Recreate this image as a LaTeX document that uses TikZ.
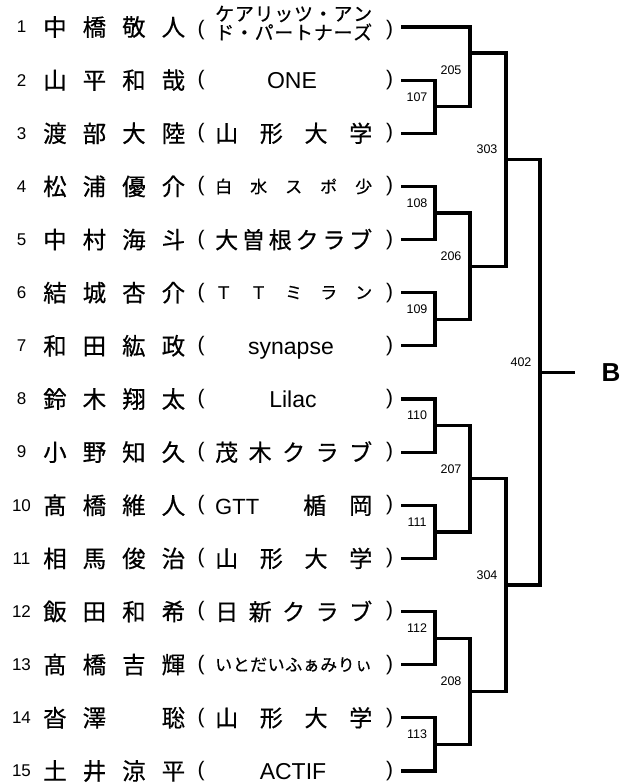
\documentclass[tikz,border=0pt]{standalone}
\usepackage{fontspec}
\setmainfont{Liberation Sans}
\newfontfamily\jp[FakeBold=0.5]{Noto Sans CJK JP}
\newcommand\nmbox[4]{\hbox to 142pt{#1\hfil #2\hfil #3\hfil #4}}
\newcommand\clbox[1]{\hbox to 157pt{#1}}
\begin{document}
\begin{tikzpicture}[x=1pt,y=-1pt,
  wire/.style={line width=3.2pt,line join=miter},
  numtxt/.style={inner sep=0pt,font=\fontsize{17}{17}\selectfont},
  nmtxt/.style={inner sep=0pt,anchor=west,font=\jp\fontsize{23.5}{23.5}\selectfont},
  clbig/.style={inner sep=0pt,anchor=west,font=\jp\fontsize{23}{23}\selectfont},
  clsmall/.style={inner sep=0pt,anchor=west,font=\jp\fontsize{17}{17}\selectfont},
  clmid/.style={inner sep=0pt,anchor=west,font=\jp\fontsize{19}{19}\selectfont},
  cllat/.style={inner sep=0pt,anchor=base,font=\fontsize{23}{23}\selectfont},
  par/.style={inner sep=0pt,font=\fontsize{21}{21}\selectfont},
  mlab/.style={inner sep=0pt,font=\fontsize{12.5}{12.5}\selectfont},
  blab/.style={inner sep=0pt,font=\bfseries\fontsize{26}{26}\selectfont}]
\useasboundingbox (0,0) rectangle (633,784);
% row positions
\foreach \i/\y/\py in {1/27/30,2/80.1/80.1,3/133.3/133.3,4/186.4/186.4,5/239.6/239.6,6/292.7/292.7,7/345.8/345.8,8/399.0/399.0,9/452.1/452.1,10/505.3/505.3,11/558.4/558.4,12/611.5/611.5,13/664.7/664.7,14/717.8/717.8,15/771.0/771.0}{
  \coordinate (p\i) at (401,\y);
  \node[numtxt] (num\i) at (21.5,\y) {\i};
  \node[par] (lp\i) at (201,\py) {(};
  \node[par] (rp\i) at (389.5,\py) {)};
}
% names
\node[nmtxt] (nm1) at (43,27) {\nmbox{中}{橋}{敬}{人}};
\node[nmtxt] (nm2) at (43,80.1) {\nmbox{山}{平}{和}{哉}};
\node[nmtxt] (nm3) at (43,133.3) {\nmbox{渡}{部}{大}{陸}};
\node[nmtxt] (nm4) at (43,186.4) {\nmbox{松}{浦}{優}{介}};
\node[nmtxt] (nm5) at (43,239.6) {\nmbox{中}{村}{海}{斗}};
\node[nmtxt] (nm6) at (43,292.7) {\nmbox{結}{城}{杏}{介}};
\node[nmtxt] (nm7) at (43,345.8) {\nmbox{和}{田}{紘}{政}};
\node[nmtxt] (nm8) at (43,399.0) {\nmbox{鈴}{木}{翔}{太}};
\node[nmtxt] (nm9) at (43,452.1) {\nmbox{小}{野}{知}{久}};
\node[nmtxt] (nm10) at (43,505.3) {\nmbox{髙}{橋}{維}{人}};
\node[nmtxt] (nm11) at (43,558.4) {\nmbox{相}{馬}{俊}{治}};
\node[nmtxt] (nm12) at (43,611.5) {\nmbox{飯}{田}{和}{希}};
\node[nmtxt] (nm13) at (43,664.7) {\nmbox{髙}{橋}{吉}{輝}};
\node[nmtxt] (nm14) at (43,717.8) {\nmbox{沓}{澤}{\hbox to 1em{}}{聡}};
\node[nmtxt] (nm15) at (43,771.0) {\nmbox{土}{井}{涼}{平}};
% clubs
\node[clmid] (cl1a) at (215,14) {\clbox{ケ\hfil ア\hfil リ\hfil ッ\hfil ツ\hfil ・\hfil ア\hfil ン}};
\node[clmid] (cl1b) at (215,32) {\clbox{ド\hfil ・\hfil パ\hfil ー\hfil ト\hfil ナ\hfil ー\hfil ズ}};
\node[cllat] (cl2) at (292,88.3) {ONE};
\node[clbig] (cl3) at (215,133.3) {\clbox{山\hfil 形\hfil 大\hfil 学}};
\node[clsmall] (cl4) at (215,186.4) {\clbox{白\hfil 水\hfil ス\hfil ポ\hfil 少}};
\node[clbig] (cl5) at (215,239.6) {\clbox{大\hfil 曽\hfil 根\hfil ク\hfil ラ\hfil ブ}};
\node[clsmall] (cl6) at (215,292.7) {\clbox{Ｔ\hfil Ｔ\hfil ミ\hfil ラ\hfil ン}};
\node[cllat] (cl7) at (291,354) {synapse};
\node[cllat] (cl8) at (293,407.2) {Lilac};
\node[clbig] (cl9) at (215,452.1) {\clbox{茂\hfil 木\hfil ク\hfil ラ\hfil ブ}};
\node[clbig] (cl10) at (215,505.3) {\clbox{{\rmfamily\fontsize{22}{22}\selectfont GTT}\hfil 楯\hskip 23pt 岡}};
\node[clbig] (cl11) at (215,558.4) {\clbox{山\hfil 形\hfil 大\hfil 学}};
\node[clbig] (cl12) at (215,611.5) {\clbox{日\hfil 新\hfil ク\hfil ラ\hfil ブ}};
\node[clsmall] (cl13) at (215,664.7) {\clbox{い\hfil と\hfil だ\hfil い\hfil ふ\hfil ぁ\hfil み\hfil り\hfil ぃ}};
\node[clbig] (cl14) at (215,717.8) {\clbox{山\hfil 形\hfil 大\hfil 学}};
\node[cllat] (cl15) at (293,779.2) {ACTIF};
% junctions
\coordinate (j107) at (435,106.7);
\coordinate (j108) at (435,213.0);
\coordinate (j109) at (435,319.3);
\coordinate (j110) at (435,425.6);
\coordinate (j111) at (435,531.9);
\coordinate (j112) at (435,638.1);
\coordinate (j113) at (435,744.4);
\coordinate (j205) at (470,53);
\coordinate (j206) at (470,266.2);
\coordinate (j207) at (470,478.8);
\coordinate (j208) at (470,691.3);
\coordinate (j303) at (506,159.6);
\coordinate (j304) at (506,585.0);
\coordinate (j402) at (540,372.3);
\coordinate (bend) at (575,372.3);
% bracket
\draw[wire] (p2) -| (j107) |- (p3);
\draw[wire] (p4) -| (j108) |- (p5);
\draw[wire] (p6) -| (j109) |- (p7);
\draw[wire] (p8) -| (j110) |- (p9);
\draw[wire] (p10) -| (j111) |- (p11);
\draw[wire] (p12) -| (j112) |- (p13);
\draw[wire] (p14) -| (j113) |- (p15);
\draw[wire] (p1) -| (j205) |- (j107);
\draw[wire] (j108) -| (j206) |- (j109);
\draw[wire] (j110) -| (j207) |- (j111);
\draw[wire] (j112) -| (j208) |- (j113);
\draw[wire] (j205) -| (j303) |- (j206);
\draw[wire] (j207) -| (j304) |- (j208);
\draw[wire] (j303) -| (j402) |- (j304);
\draw[wire] (j402) -- (bend);
% match labels
\node[mlab] (l107) at (417,97) {107};
\node[mlab] (l108) at (417,203) {108};
\node[mlab] (l109) at (417,309) {109};
\node[mlab] (l110) at (417,415.6) {110};
\node[mlab] (l111) at (417,522) {111};
\node[mlab] (l112) at (417,628) {112};
\node[mlab] (l113) at (417,734.4) {113};
\node[mlab] (l205) at (451,70) {205};
\node[mlab] (l206) at (451,256) {206};
\node[mlab] (l207) at (451,468.8) {207};
\node[mlab] (l208) at (451,681.3) {208};
\node[mlab] (l303) at (487,149.6) {303};
\node[mlab] (l304) at (487,575) {304};
\node[mlab] (l402) at (521,362.3) {402};
\node[blab] (B) at (611,372.3) {B};
\end{tikzpicture}
\end{document}
